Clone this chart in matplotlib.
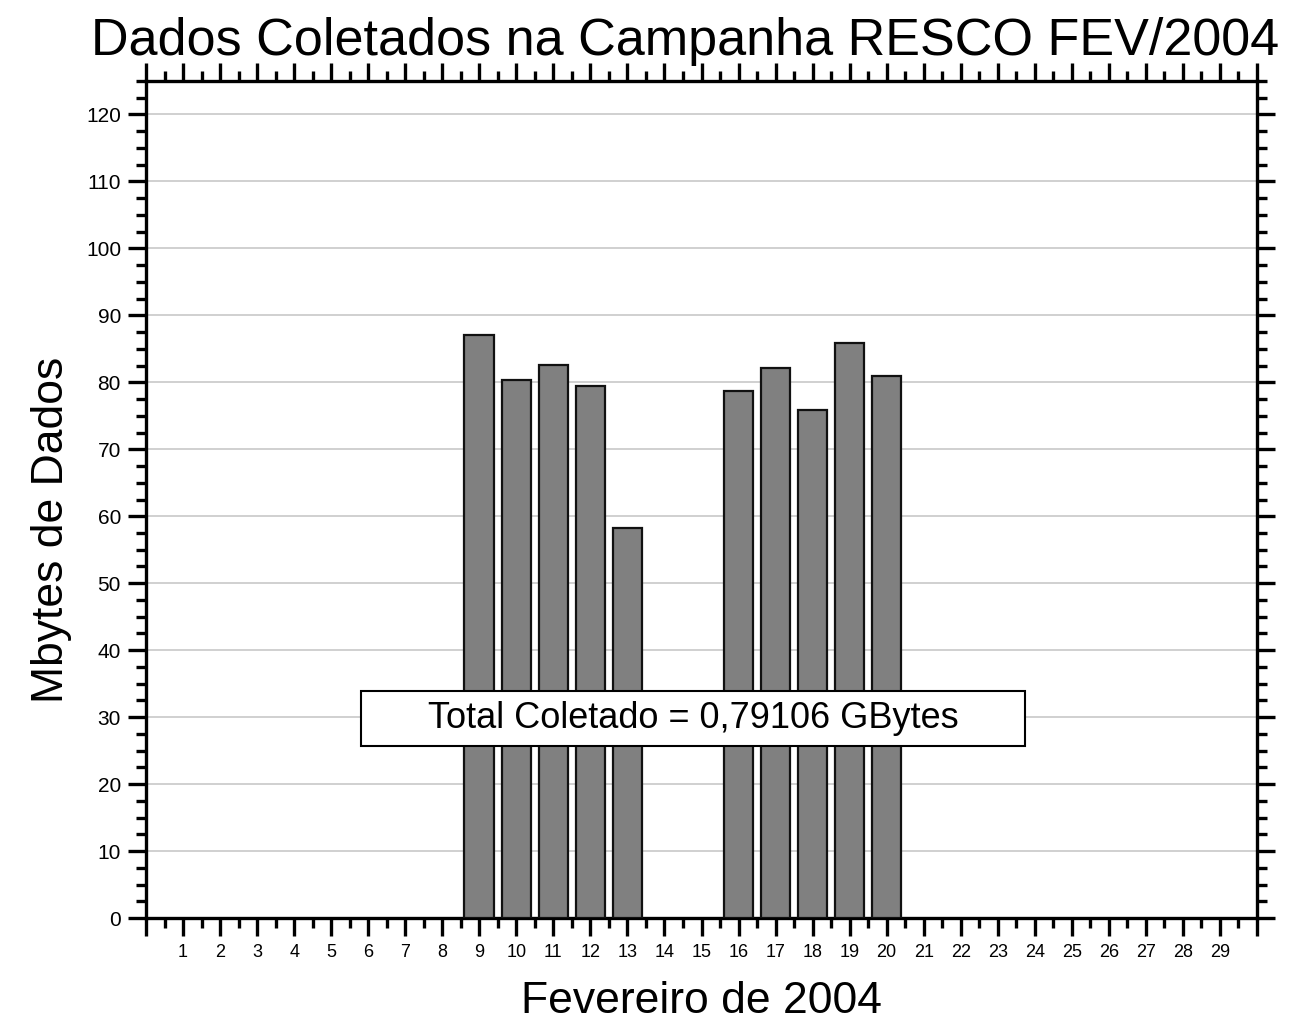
import matplotlib
matplotlib.use("Agg")
import matplotlib.pyplot as plt
from matplotlib.ticker import MultipleLocator, FixedLocator
from matplotlib.patches import Rectangle

plt.rcParams['font.family'] = ['Liberation Sans', 'DejaVu Sans']

days = [9, 10, 11, 12, 13, 16, 17, 18, 19, 20]
mbytes = [87.1, 80.4, 82.6, 79.4, 58.2, 78.7, 82.2, 75.9, 85.8, 81.0]
xtick_labels = [str(d) for d in range(1, 30)]
title = "Dados Coletados na Campanha RESCO FEV/2004"
xlabel = "Fevereiro de 2004"
ylabel = "Mbytes de Dados"
note = "Total Coletado = 0,79106 GBytes"

W, H = 1295, 1024
fig = plt.figure(figsize=(W/100, H/100), dpi=100)
ax = fig.add_axes([146/W, 1 - 918/H, (1257-146)/W, (918-81)/H])

ax.bar(days, mbytes, width=0.8, color='#808080', edgecolor='#111111', linewidth=1.6, zorder=3)

ax.set_xlim(0, 30)
ax.set_ylim(0, 125)

ax.yaxis.set_major_locator(MultipleLocator(10))
ax.yaxis.set_minor_locator(MultipleLocator(2.5))
ax.xaxis.set_major_locator(FixedLocator(list(range(0, 31))))
ax.xaxis.set_minor_locator(MultipleLocator(0.5))
ax.set_xticklabels([''] + xtick_labels + [''])

ax.grid(axis='y', which='major', color='#c8c8c8', linewidth=1.2, zorder=0)
ax.set_axisbelow(True)

for s in ax.spines.values():
    s.set_linewidth(2.4)

ax.tick_params(axis='both', which='major', direction='out', length=13, width=2.4,
               top=True, right=True)
ax.tick_params(axis='both', which='minor', direction='out', length=7, width=2.4,
               top=True, right=True)
ax.tick_params(axis='x', which='major', labelsize=13, pad=6)
ax.tick_params(axis='y', which='major', labelsize=15, pad=5)

fig.text(685/W, 1 - 55/H, title, fontsize=37.5, ha='center', va='baseline')
ax.set_xlabel(xlabel, fontsize=32, labelpad=14)
ax.set_ylabel(ylabel, fontsize=32)
ax.yaxis.set_label_coords(-0.067, 0.464)

# annotation box (axes-fraction placement)
bx0, bx1 = (361-146)/1111, (1025-146)/1111
by0, by1 = (918-746)/837, (918-691)/837
ax.add_patch(Rectangle((bx0, by0), bx1-bx0, by1-by0, transform=ax.transAxes,
                       facecolor='white', edgecolor='black', linewidth=1.5, zorder=5))
ax.text((bx0+bx1)/2, (by0+by1)/2, note, transform=ax.transAxes, fontsize=26,
        ha='center', va='center', zorder=6)

fig.savefig("out.png", dpi=100)
